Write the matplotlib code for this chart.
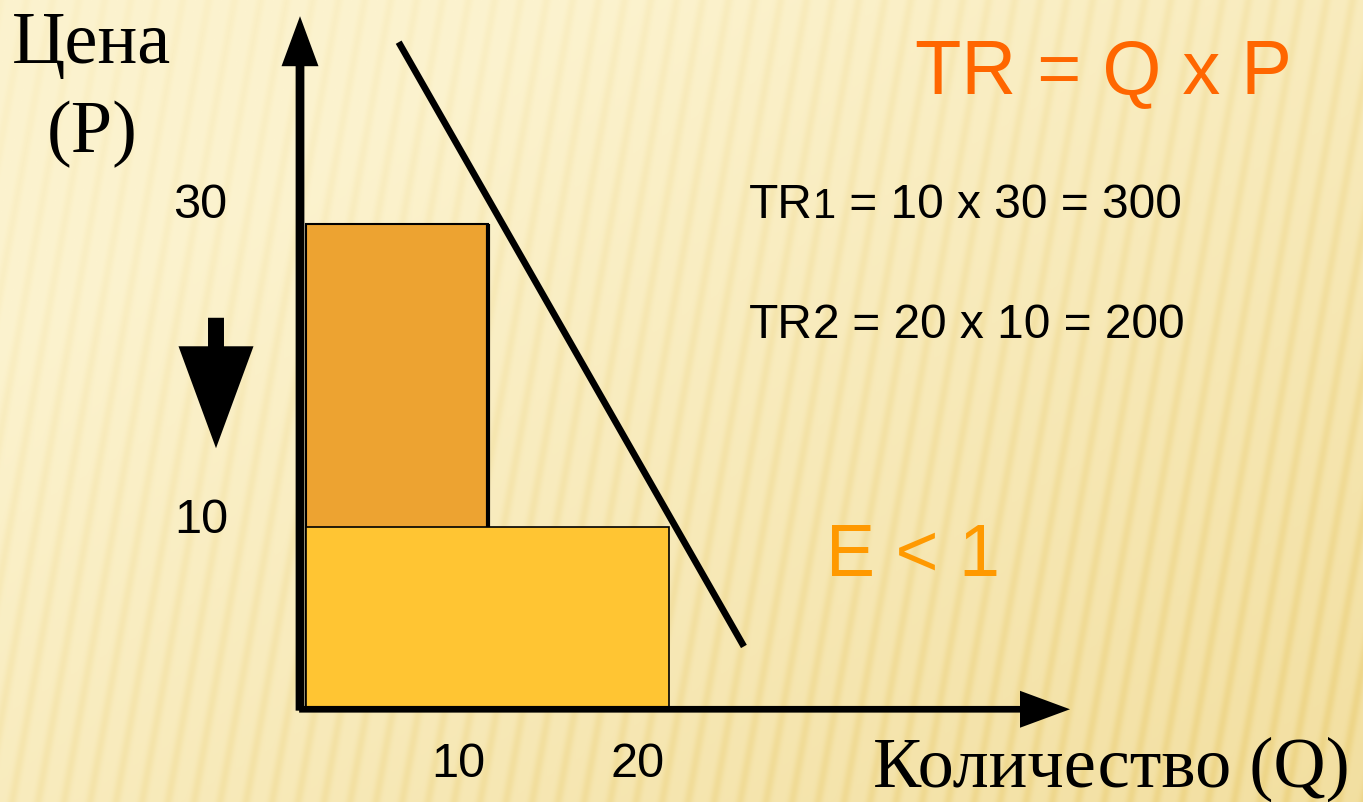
import numpy as np
import matplotlib
matplotlib.use('Agg')
import matplotlib.pyplot as plt
from matplotlib.patches import FancyArrowPatch
from matplotlib.transforms import offset_copy

# ---------------- data ----------------
quantities = [10, 20]          # Q1, Q2
prices = [30, 10]              # P1, P2
revenue_parts = [('TR', '1', ' = 10 x 30 = 300'), ('TR', '2', ' = 20 x 10 = 200')]
demand_q = [5.1, 24.1]         # demand line end points (Q)
demand_p = [42.0, 3.4]         # demand line end points (P)
x_tick_labels = ['10', '20']
y_tick_labels = ['30', '10']
title_formula = 'TR = Q x P'
elasticity_label = 'E < 1'
y_label_lines = ['Цена', '(P)']
x_label = 'Количество (Q)'

# ---------------- layout ----------------
W, H = 1363, 802
DPI = 100
fig = plt.figure(figsize=(W / DPI, H / DPI), dpi=DPI)

def fx(x):
    return x / W

def fy(y):
    return 1 - y / H

# background (pixel coords)
bg = fig.add_axes([0, 0, 1, 1])
bg.set_xlim(0, W)
bg.set_ylim(H, 0)
bg.axis('off')
yy, xx = np.mgrid[0:H, 0:W].astype(float)
t = np.clip(0.6 * xx / W + 0.6 * yy / H - 0.25, 0, 1)
light = np.array([252, 243, 207]) / 255
dark = np.array([242, 222, 158]) / 255
base = light + (dark - light) * t[..., None]
phase = (xx + 0.18 * yy) / 26.0 * 2 * np.pi
stripe = (0.5 + 0.5 * np.cos(phase)) ** 3
amp = 0.3 + 0.7 * (0.5 * yy / H + 0.5 * xx / W)
shade = np.array([10, 20, 50]) / 255
img = np.clip(base - shade * (stripe * amp)[..., None] * 0.55, 0, 1)
bg.imshow(img, extent=(0, W, H, 0), aspect='auto', interpolation='bilinear', zorder=0)

# down arrow (decorative, pixel coords)
bg.add_patch(FancyArrowPatch((216, 315), (216, 451),
                             arrowstyle='simple,head_length=73.4,head_width=54,tail_width=11.5',
                             mutation_scale=1, color='black', lw=0, zorder=2))

# main data axes
ax = fig.add_axes([0, 0, 1, 1], facecolor='none')
X0, SX = 306.0, 18.17
P_PIX0 = 708.0
knots_p = [0, 10, 30]
knots_d = [0, 181, 484]
s_low, s_high = 18.1, 15.15

def fwd(p):
    p = np.asarray(p, float)
    d = np.interp(p, knots_p, knots_d)
    d = np.where(p < 0, p * s_low, d)
    d = np.where(p > 30, 484 + (p - 30) * s_high, d)
    return d

def inv(d):
    d = np.asarray(d, float)
    p = np.interp(d, knots_d, knots_p)
    p = np.where(d < 0, d / s_low, p)
    p = np.where(d > 484, 30 + (d - 484) / s_high, p)
    return p

ax.set_yscale('function', functions=(fwd, inv))
ax.set_xlim(-X0 / SX, (W - X0) / SX)
ax.set_ylim(float(inv(-(H - P_PIX0))), float(inv(P_PIX0)))
ax.axis('off')

# revenue rectangles
ax.bar(0, prices[0], width=quantities[0], align='edge', color='#EDA331',
       edgecolor='black', lw=1.5, zorder=2)
ax.bar(0, prices[1], width=quantities[1], align='edge', color='#FFC533',
       edgecolor='black', lw=1.2, zorder=3)
ax.vlines(quantities[0], prices[1], prices[0], colors='black', lw=3.0, zorder=4)

# demand line
ax.plot(demand_q, demand_p, color='black', lw=4.8, solid_capstyle='butt', zorder=5)

# axes arrows
axis_q = -0.33
ax.add_patch(FancyArrowPatch((axis_q, -0.3), (axis_q, 43.9),
                             arrowstyle='simple,head_length=36,head_width=26.6,tail_width=6.3',
                             mutation_scale=1, color='black', lw=0, zorder=6))
ax.add_patch(FancyArrowPatch((axis_q - 0.2, -0.07), (42.2, -0.07),
                             arrowstyle='simple,head_length=36,head_width=26.6,tail_width=4.8',
                             mutation_scale=1, color='black', lw=0, zorder=6))

sans = 'Liberation Sans'
serif = 'Liberation Serif'

# tick labels
fig.text(fx(458), fy(777), x_tick_labels[0], ha='center', va='baseline', family=sans, size=35)
fig.text(fx(638), fy(777), x_tick_labels[1], ha='center', va='baseline', family=sans, size=35)
fig.text(fx(200), fy(218), y_tick_labels[0], ha='center', va='baseline', family=sans, size=35)
fig.text(fx(201), fy(533), y_tick_labels[1], ha='center', va='baseline', family=sans, size=35)

# axis titles
fig.text(fx(92), fy(63), y_label_lines[0], ha='center', va='baseline', family=serif, size=53.5)
fig.text(fx(92), fy(152), y_label_lines[1], ha='center', va='baseline', family=serif, size=53.5)
fig.text(fx(873), fy(787), x_label, ha='left', va='baseline', family=serif, size=52)

# formulas
fig.text(fx(915), fy(93), title_formula, ha='left', va='baseline', family=sans, size=54.5,
         color='#FF6600')

renderer = fig.canvas.get_renderer()
for (head, idx, tail), base_y, idx_size in zip(revenue_parts, [218, 338], [30, 34.5]):
    t1 = fig.text(fx(749), fy(base_y), head, ha='left', va='baseline', family=sans, size=34.5)
    x1 = t1.get_window_extent(renderer).x1 / W
    t2 = fig.text(x1, fy(base_y), idx, ha='left', va='baseline', family=sans, size=idx_size)
    x2 = t2.get_window_extent(renderer).x1 / W
    fig.text(x2, fy(base_y), tail, ha='left', va='baseline', family=sans, size=34.5)

fig.text(fx(826), fy(576), elasticity_label, ha='left', va='baseline', family=sans, size=53,
         color='#FF9900')

fig.savefig('out.png', dpi=DPI)
